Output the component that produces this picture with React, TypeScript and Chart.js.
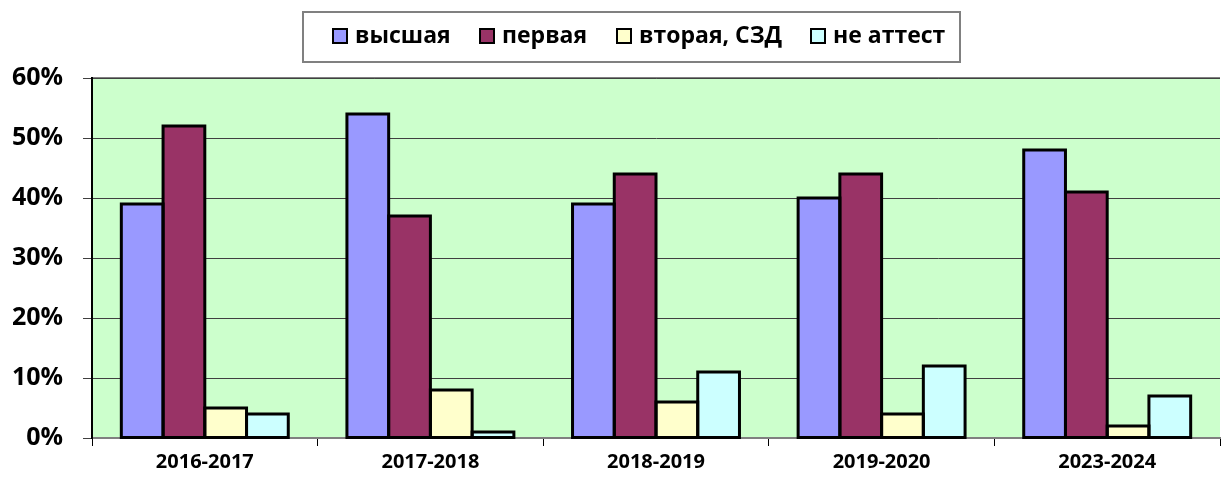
import React, { useEffect, useRef } from "react";
import { Chart, registerables } from "chart.js";

Chart.register(...registerables);

const categories = ["2016-2017", "2017-2018", "2018-2019", "2019-2020", "2023-2024"];
const seriesNames = ["высшая", "первая", "вторая, СЗД", "не аттест"];
const vysshaya = [39, 54, 39, 40, 48];
const pervaya = [52, 37, 44, 44, 41];
const vtoraya = [5, 8, 6, 4, 2];
const neAttest = [4, 1, 11, 12, 7];
const colors = ["#9999FF", "#993366", "#FFFFCC", "#CCFFFF"];
const yTicks = [0, 10, 20, 30, 40, 50, 60];

const FONT = "'Open Sans', 'Liberation Sans', sans-serif";
const legendX = [332, 479, 616, 810];

const bgPlugin = {
  id: "bgPlugin",
  beforeDraw(chart: any) {
    const { ctx, chartArea } = chart;
    ctx.save();
    ctx.fillStyle = "#CCFFCC";
    ctx.fillRect(chartArea.left, chartArea.top, chartArea.right - chartArea.left, chartArea.bottom - chartArea.top);
    ctx.strokeStyle = "#808080";
    ctx.lineWidth = 2;
    ctx.beginPath();
    ctx.moveTo(chartArea.left, chartArea.top);
    ctx.lineTo(chartArea.right, chartArea.top);
    ctx.stroke();
    ctx.restore();
  },
};

const barBorderPlugin = {
  id: "barBorder",
  afterDatasetsDraw(chart: any) {
    const { ctx } = chart;
    ctx.save();
    ctx.strokeStyle = "#000";
    ctx.lineWidth = 3;
    ctx.lineJoin = "miter";
    chart.data.datasets.forEach((_: any, di: number) => {
      const meta = chart.getDatasetMeta(di);
      meta.data.forEach((el: any) => {
        const p = el.getProps(["x", "y", "base", "width"], true);
        const l = p.x - p.width / 2;
        ctx.strokeRect(l, p.y, p.width, p.base - p.y);
      });
    });
    ctx.restore();
  },
};

const legendPlugin = {
  id: "boxLegend",
  afterDraw(chart: any) {
    const { ctx } = chart;
    const x0 = 303, y0 = 12, w = 657, h = 50;
    ctx.save();
    ctx.fillStyle = "#FFFFFF";
    ctx.fillRect(x0, y0, w, h);
    ctx.strokeStyle = "#808080";
    ctx.lineWidth = 2;
    ctx.strokeRect(x0, y0, w, h);
    ctx.font = `bold 23px ${FONT}`;
    ctx.textBaseline = "middle";
    const cy = 36;
    chart.data.datasets.forEach((ds: any, i: number) => {
      const x = legendX[i];
      ctx.fillStyle = ds.backgroundColor;
      ctx.fillRect(x + 1, cy - 7, 14, 14);
      ctx.strokeStyle = "#000";
      ctx.lineWidth = 2;
      ctx.strokeRect(x + 1, cy - 7, 14, 14);
      ctx.fillStyle = "#000";
      ctx.textAlign = "left";
      ctx.fillText(ds.label, x + 23, cy);
    });
    ctx.restore();
  },
};

export default function App() {
  const ref = useRef<HTMLCanvasElement>(null);
  useEffect(() => {
    const data = [vysshaya, pervaya, vtoraya, neAttest];
    const chart = new Chart(ref.current!, {
      type: "bar",
      data: {
        labels: categories,
        datasets: seriesNames.map((n, i) => ({
          label: n,
          data: data[i],
          backgroundColor: colors[i],
          borderWidth: 0,
          categoryPercentage: 0.74,
          barPercentage: 1.0,
        })),
      },
      options: {
        animation: false,
        responsive: false,
        maintainAspectRatio: false,
        layout: { padding: { top: 78, right: 1, left: 0, bottom: 0 } },
        plugins: { legend: { display: false }, tooltip: { enabled: false } },
        scales: {
          x: {
            grid: { display: true, drawOnChartArea: false, drawTicks: true, tickLength: 8, color: "#000", offset: true },
            border: { color: "#808080", width: 2 },
            ticks: { color: "#000", font: { family: FONT, size: 20, weight: "bold" }, padding: 4 },
            afterFit(scale: any) { scale.height = 39; },
          },
          y: {
            min: 0,
            max: 60,
            afterBuildTicks(scale: any) { scale.ticks = yTicks.map((v) => ({ value: v })); },
            grid: { color: "#404040", lineWidth: 1, tickLength: 9 },
            border: { color: "#000", width: 2 },
            ticks: {
              color: "#000",
              font: { family: FONT, size: 25, weight: "bold" },
              padding: 20,
              callback: (v: any) => `${v}%`,
            },
            afterFit(scale: any) { scale.width = 92; },
          },
        },
      },
      plugins: [bgPlugin, barBorderPlugin, legendPlugin],
    });
    return () => chart.destroy();
  }, []);
  return (
    <div style={{ position: "fixed", left: 0, top: 0, width: 1221, height: 477, background: "#fff" }}>
      <canvas ref={ref} width={1221} height={477} style={{ width: 1221, height: 477 }} />
    </div>
  );
}
